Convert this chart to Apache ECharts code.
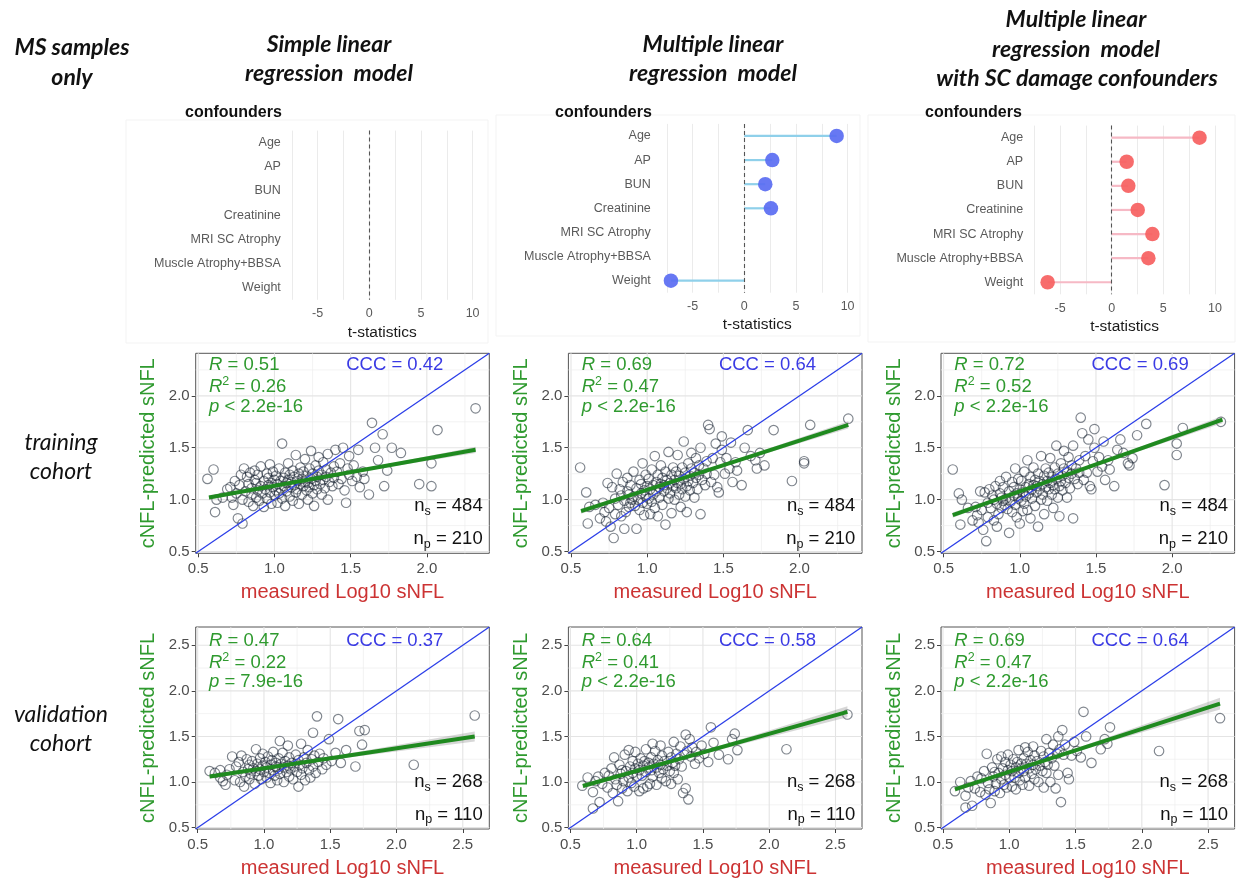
<!DOCTYPE html>
<html>
<head>
<meta charset="utf-8">
<title>cNFL-predicted sNFL vs measured sNFL</title>
<script src="https://cdn.jsdelivr.net/npm/echarts@6.0.0/dist/echarts.min.js"></script>
<style>
  html, body { margin: 0; padding: 0; background: #fff; }
  #chart { width: 1239px; height: 881px; }
</style>
</head>
<body>
<div id="chart"></div>
<script>
// ---- confounder t-statistics (top row) ----
const CONFOUNDERS = ['Age', 'AP', 'BUN', 'Creatinine', 'MRI SC Atrophy', 'Muscle Atrophy+BBSA', 'Weight'];
const T_SIMPLE = [null, null, null, null, null, null, null];
const T_MULTI = [8.94, 2.71, 2.03, 2.58, null, null, -7.1];
const T_MULTI_SC = [8.5, 1.45, 1.61, 2.52, 3.94, 3.55, -6.2];
const T_TICKS = [-5, 0, 5, 10];

// ---- training cohort: measured Log10 sNFL and predicted values per model ----
const TRAIN_X = [0.56,0.60,0.61,0.62,0.66,0.69,
  0.71,0.72,0.73,0.74,0.75,0.76,0.77,0.78,0.79,0.79,
  0.80,0.81,0.82,0.83,0.83,0.84,0.85,0.85,0.86,0.87,0.87,0.88,0.88,0.89,0.89,0.90,
  0.91,0.91,0.92,0.93,0.93,0.94,0.95,0.95,0.96,0.96,0.97,0.97,0.98,0.98,0.99,0.99,1.00,1.00,
  1.01,1.01,1.02,1.02,1.03,1.03,1.04,1.04,1.05,1.05,1.06,1.06,1.07,1.07,1.08,1.08,1.09,1.09,1.10,1.10,
  1.11,1.11,1.12,1.12,1.13,1.13,1.14,1.14,1.15,1.15,1.16,1.16,1.17,1.17,1.18,1.18,1.19,1.19,1.20,1.20,
  1.21,1.21,1.22,1.22,1.23,1.23,1.24,1.24,1.25,1.25,1.26,1.26,1.27,1.27,1.28,1.28,1.29,1.29,
  1.30,1.31,1.31,1.32,1.32,1.33,1.34,1.34,1.35,1.35,1.36,1.37,1.38,1.39,1.39,
  1.40,1.41,1.42,1.43,1.44,1.45,1.46,1.47,1.48,1.49,1.49,
  1.51,1.52,1.54,1.55,1.56,1.58,1.59,
  1.62,1.64,1.66,1.68,1.71,1.72,1.74,1.77,
  1.83,1.95,2.03,2.03,2.07,2.32];
const TRAIN_Y_SIMPLE = [1.20,1.29,0.88,1.00,1.02,1.10,
  1.12,1.02,0.95,1.18,1.06,0.82,1.14,1.24,0.77,1.00,
  1.30,1.08,1.22,0.98,1.15,1.26,1.05,1.11,0.94,1.19,1.28,1.02,1.16,1.09,1.24,0.99,
  1.13,1.32,1.06,0.93,1.18,1.10,1.25,1.01,1.14,1.21,1.07,1.34,0.96,1.16,1.12,1.27,1.04,1.19,
  1.09,1.23,0.97,1.15,1.30,1.06,1.18,1.11,1.54,1.01,1.21,1.13,1.26,0.94,1.16,1.08,1.35,1.19,1.03,1.24,
  1.12,1.17,0.99,1.28,1.14,1.22,1.07,1.43,1.18,1.10,1.25,0.96,1.15,1.31,1.20,1.05,1.13,1.27,1.17,1.39,
  1.09,1.23,1.00,1.16,1.30,1.12,1.20,1.47,1.06,1.25,1.14,0.94,1.33,1.18,1.22,1.10,1.28,1.41,
  1.15,1.24,1.05,1.36,1.19,1.11,1.29,1.22,1.44,1.00,1.17,1.26,1.13,1.32,1.21,
  1.48,1.27,1.15,1.35,1.20,1.50,1.09,0.97,1.30,1.24,1.42,
  1.18,1.33,1.22,1.48,1.12,1.27,1.20,
  1.05,1.74,1.50,1.38,1.63,1.13,1.28,1.50,
  1.45,1.15,1.35,1.13,1.67,1.88];
const TRAIN_Y_MULTI = [1.31,1.07,0.77,0.93,0.95,0.82,
  0.97,0.88,0.79,1.16,0.92,0.74,1.12,0.63,0.86,1.01,
  1.25,0.95,1.10,0.84,1.04,1.17,0.72,0.99,0.88,1.08,1.21,0.93,1.05,0.97,1.14,1.00,
  1.03,1.27,0.94,0.72,1.11,1.00,1.19,0.90,1.06,1.15,0.97,1.35,0.85,1.09,1.03,1.24,0.96,1.13,
  1.01,1.20,0.86,1.10,1.29,0.98,1.14,1.05,1.42,0.92,1.17,1.08,1.24,0.84,1.12,1.02,1.33,1.15,0.95,1.21,
  1.08,1.14,0.76,1.27,1.11,1.19,1.01,1.46,1.16,1.06,1.24,0.87,1.13,1.31,1.19,1.00,1.11,1.27,1.16,1.43,
  1.05,1.23,0.93,1.15,1.31,1.10,1.20,1.56,1.03,1.26,1.13,0.88,1.35,1.18,1.23,1.09,1.30,1.45,
  1.16,1.26,1.02,1.40,1.21,1.10,1.33,1.24,1.50,0.86,1.19,1.30,1.14,1.37,1.25,
  1.72,1.68,1.17,1.40,1.24,1.54,1.12,1.07,1.36,1.61,1.48,
  1.25,1.40,1.30,1.55,1.17,1.36,1.28,
  1.14,1.50,1.67,1.42,1.38,1.30,1.45,1.33,
  1.67,1.18,1.37,1.35,1.72,1.78];
const TRAIN_Y_MULTI_SC = [1.29,1.06,0.76,1.00,0.92,0.80,
  0.93,0.85,0.78,1.08,0.90,0.71,1.07,0.60,0.83,0.97,
  1.10,0.92,1.04,0.80,1.00,1.13,0.74,0.96,0.86,1.06,1.18,0.92,1.02,0.99,1.12,0.95,
  1.01,1.22,0.91,0.68,1.08,0.98,1.17,0.88,1.04,1.12,0.95,1.30,0.83,1.06,1.01,1.20,0.77,1.10,
  0.99,1.18,0.89,1.07,1.27,0.96,1.12,1.03,1.38,0.90,1.15,1.06,1.22,0.82,1.10,1.01,1.31,1.14,0.94,1.19,
  1.07,1.13,0.74,1.25,1.10,1.18,1.00,1.42,1.15,1.05,1.23,0.86,1.12,1.30,1.18,0.99,1.10,1.26,1.16,1.40,
  1.05,1.22,0.92,1.14,1.31,1.10,1.20,1.52,1.02,1.25,1.13,0.84,1.35,1.18,1.23,1.09,1.30,1.47,
  1.16,1.27,1.02,1.41,1.21,1.11,1.33,1.25,1.52,0.82,1.20,1.30,1.15,1.38,1.26,
  1.79,1.64,1.19,1.42,1.26,1.58,1.13,1.10,1.37,1.68,1.50,
  1.27,1.41,1.32,1.56,1.19,1.38,1.29,
  1.13,1.48,1.58,1.45,1.35,1.33,1.40,1.62,
  1.73,1.14,1.54,1.43,1.69,1.75];

// ---- validation cohort ----
const VALID_X = [0.59,0.63,0.67,0.67,0.69,
  0.71,0.72,0.74,0.76,0.78,0.79,
  0.81,0.82,0.83,0.84,0.85,0.86,0.87,0.88,0.89,0.89,
  0.90,0.91,0.92,0.93,0.94,0.94,0.95,0.96,0.97,0.97,0.98,0.99,0.99,
  1.00,1.01,1.02,1.02,1.03,1.04,1.05,1.05,1.06,1.07,1.07,1.08,1.09,1.09,
  1.10,1.11,1.11,1.12,1.12,1.13,1.14,1.15,1.15,1.16,1.17,1.18,1.18,1.19,1.19,
  1.20,1.21,1.22,1.23,1.24,1.25,1.26,1.26,1.27,1.28,1.28,1.29,
  1.30,1.31,1.32,1.33,1.34,1.35,1.36,1.37,1.37,1.38,1.39,
  1.40,1.41,1.42,1.44,1.45,1.47,1.49,
  1.51,1.54,1.56,1.58,
  1.62,1.69,1.72,1.74,1.76,
  2.13,2.59];
const VALID_Y_SIMPLE = [1.12,1.10,1.13,1.05,1.01,
  0.97,1.08,1.14,1.28,1.02,1.17,
  1.22,1.00,1.29,1.11,0.95,1.06,1.25,1.14,1.03,1.19,
  1.09,1.23,1.15,0.98,1.36,1.12,1.20,1.07,1.26,1.14,1.03,1.18,1.31,
  1.11,1.22,1.05,1.16,1.28,1.10,1.19,0.99,1.24,1.13,1.33,1.07,1.17,1.21,
  1.02,1.26,1.14,1.45,1.09,1.20,1.32,1.00,1.16,1.23,1.11,1.18,1.40,1.06,1.27,
  1.14,1.21,1.03,1.17,1.30,1.11,0.95,1.24,1.19,1.42,1.08,1.15,
  1.27,1.02,1.21,1.35,1.13,1.05,1.25,1.54,1.17,1.29,1.10,
  1.72,1.22,1.31,1.14,1.26,1.19,1.47,
  1.23,1.32,1.69,1.21,
  1.35,1.17,1.56,1.41,1.57,
  1.19,1.73];
const VALID_Y_MULTI = [0.96,1.05,0.89,0.71,1.01,
  1.06,0.78,0.98,1.10,0.94,1.07,
  1.15,0.88,1.27,1.03,0.97,0.79,1.19,1.09,0.93,1.13,
  1.01,1.30,1.12,0.90,1.35,1.05,1.17,0.99,1.23,1.10,0.95,1.15,1.33,
  1.06,1.20,0.90,1.13,1.26,1.07,1.18,0.93,1.23,1.11,1.36,0.95,1.16,1.21,
  0.98,1.27,1.13,1.42,1.06,1.20,1.34,0.97,1.16,1.24,1.10,1.19,1.40,1.04,1.29,
  1.14,1.23,1.01,1.18,1.33,1.12,0.98,1.27,1.21,1.44,1.10,1.18,
  1.31,1.03,1.25,1.39,1.17,0.88,1.30,1.52,0.93,1.34,0.81,
  1.47,1.28,1.38,1.20,1.33,1.26,1.40,
  1.31,1.22,1.60,1.43,
  1.30,1.25,1.47,1.53,1.35,
  1.36,1.74];
const VALID_Y_MULTI_SC = [0.90,1.00,0.85,0.72,0.94,
  1.01,0.74,0.93,1.06,0.89,1.04,
  1.12,0.86,1.31,0.99,0.92,0.77,1.16,1.06,0.90,1.11,
  0.98,1.25,1.10,0.88,1.28,1.03,1.15,0.97,1.22,1.08,0.94,1.13,1.30,
  1.05,1.19,0.95,1.12,1.25,1.05,1.16,0.92,1.22,1.10,1.35,1.02,1.15,1.20,
  0.97,1.26,1.12,1.38,1.05,1.20,1.33,0.96,1.15,1.24,1.09,1.19,1.39,1.03,1.29,
  1.14,1.23,1.00,1.18,1.34,1.12,0.94,1.28,1.22,1.47,1.10,1.19,
  1.32,1.00,1.26,1.41,1.18,0.93,1.31,1.50,1.08,1.36,0.78,
  1.57,1.30,1.41,1.10,1.03,1.29,1.44,
  1.34,1.27,1.77,1.50,
  1.21,1.36,1.47,1.42,1.60,
  1.34,1.70];

// ---- regression fits: end points, and confidence band as [x, lower, upper] ----
const TRAIN_FIT = [
  [[0.57, 1.02], [2.32, 1.48]],
  [[0.566, 0.89], [2.32, 1.72]],
  [[0.56, 0.85], [2.33, 1.77]]
];
const TRAIN_BAND = [
  [[0.57, 0.998, 1.042], [0.9, 1.097, 1.117], [1.2, 1.178, 1.194], [1.7, 1.302, 1.332], [2.32, 1.45, 1.51]],
  [[0.566, 0.865, 0.915], [0.9, 1.036, 1.06], [1.2, 1.181, 1.199], [1.7, 1.41, 1.444], [2.32, 1.685, 1.755]],
  [[0.56, 0.825, 0.875], [0.9, 1.015, 1.039], [1.2, 1.174, 1.192], [1.7, 1.426, 1.46], [2.33, 1.735, 1.805]]
];
const VALID_FIT = [
  [[0.59, 1.06], [2.59, 1.50]],
  [[0.594, 0.956], [2.59, 1.77]],
  [[0.59, 0.92], [2.59, 1.86]]
];
const VALID_BAND = [
  [[0.59, 1.035, 1.085], [0.9, 1.114, 1.142], [1.2, 1.184, 1.204], [1.7, 1.28, 1.328], [2.59, 1.445, 1.555]],
  [[0.594, 0.93, 0.982], [0.9, 1.066, 1.096], [1.2, 1.193, 1.213], [1.7, 1.382, 1.432], [2.59, 1.71, 1.83]],
  [[0.59, 0.893, 0.947], [0.9, 1.051, 1.081], [1.2, 1.197, 1.217], [1.7, 1.416, 1.468], [2.59, 1.795, 1.925]]
];

// ---- axes and statistics ----
const TRAIN_LIM = [0.483, 2.41];
const VALID_LIM = [0.485, 2.70];
const TRAIN_TICKS = [0.5, 1.0, 1.5, 2.0];
const VALID_TICKS = [0.5, 1.0, 1.5, 2.0, 2.5];
const TRAIN_GRID = [0.5, 0.75, 1.0, 1.25, 1.5, 1.75, 2.0, 2.25];
const VALID_GRID = [0.5, 0.75, 1.0, 1.25, 1.5, 1.75, 2.0, 2.25, 2.5];

const TRAIN_R = ['0.51', '0.69', '0.72'];
const TRAIN_R2 = ['0.26', '0.47', '0.52'];
const TRAIN_P = ['< 2.2e-16', '< 2.2e-16', '< 2.2e-16'];
const TRAIN_CCC = ['0.42', '0.64', '0.69'];
const VALID_R = ['0.47', '0.64', '0.69'];
const VALID_R2 = ['0.22', '0.41', '0.47'];
const VALID_P = ['= 7.9e-16', '< 2.2e-16', '< 2.2e-16'];
const VALID_CCC = ['0.37', '0.58', '0.64'];
const N_SAMPLES = [484, 268];
const N_PATIENTS = [210, 110];

const FONT = '"Liberation Sans", Arial, sans-serif';
const TITLE_FONT = 'Lato, "Open Sans", sans-serif';
const GREEN = '#2f9a2f';
const GREEN_LINE = '#1f8a1f';
const BLUE = '#3a3ae4';
const BLUE_LINE = '#2b3ee8';
const RED = '#cc3333';
const GREY_TXT = '#4d4d4d';

const chart = echarts.init(document.getElementById('chart'));

const grids = [];
const xAxes = [];
const yAxes = [];
const series = [];
const graphics = [];

function addText(x, y, text, style) {
  graphics.push({
    type: 'text', x: x, y: y, z: 100, silent: true,
    style: Object.assign({ text: text, fill: '#111', verticalAlign: 'middle', align: 'left' }, style)
  });
}

// column and row headings
const HEAD = { fontFamily: TITLE_FONT, fontSize: 23, fontWeight: 'bold', fontStyle: 'italic', align: 'center', fill: '#111' };
addText(72, 47.7, 'MS samples', HEAD);
addText(72, 77.3, 'only', HEAD);
addText(329, 44.3, 'Simple linear', HEAD);
addText(329, 73.3, 'regression  model', HEAD);
addText(713, 44.3, 'Multiple linear', HEAD);
addText(713, 73.3, 'regression  model', HEAD);
addText(1076, 20, 'Multiple linear', HEAD);
addText(1076, 49.3, 'regression  model', HEAD);
addText(1077, 79, 'with SC damage confounders', HEAD);

const ROWHEAD = { fontFamily: TITLE_FONT, fontSize: 23, fontStyle: 'italic', align: 'center', fill: '#111' };
addText(61, 443, 'training', ROWHEAD);
addText(61, 472, 'cohort', ROWHEAD);
addText(61, 715, 'validation', ROWHEAD);
addText(61, 744, 'cohort', ROWHEAD);

// ---- top row: lollipop panels ----
const LOLLI = [
  { left: 291.8, top: 130.6, height: 169.2, margin: 11, t: T_SIMPLE, dot: '#5a6cf2', stem: '#8fd0ea', head: 185, frame: [126, 120, 362, 223] },
  { left: 666.8, top: 123.9, height: 168.8, margin: 16, t: T_MULTI, dot: '#5a6cf2', stem: '#8fd0ea', head: 555, frame: [496, 115, 364, 221] },
  { left: 1034.2, top: 125.6, height: 168.7, margin: 11, t: T_MULTI_SC, dot: '#f65f5f', stem: '#f6b9c5', head: 925, frame: [868, 115, 367, 227] }
];
LOLLI.forEach((p, i) => {
  graphics.push({
    type: 'rect', silent: true, z: -10,
    shape: { x: p.frame[0], y: p.frame[1], width: p.frame[2], height: p.frame[3] },
    style: { fill: 'none', stroke: '#f3f3f3', lineWidth: 1 }
  });
  addText(p.head, 112.7, 'confounders', { fontFamily: FONT, fontSize: 16, fontWeight: 'bold', fill: '#111' });
  grids.push({ left: p.left, top: p.top, width: 180.8, height: p.height, outerBoundsMode: 'none' });
  xAxes.push({
    gridIndex: i, type: 'value', min: -7.5, max: 10, interval: 2.5,
    axisLine: { show: false }, axisTick: { show: false },
    axisLabel: {
      color: '#5a5a5a', fontSize: 12.5, fontFamily: FONT, margin: 7.5,
      formatter: v => (T_TICKS.indexOf(v) >= 0 ? String(v) : '')
    },
    splitLine: { show: true, lineStyle: { color: '#ebebeb', width: 1 } },
    name: 't-statistics', nameLocation: 'middle', nameGap: 24.5, nameMoveOverlap: false,
    nameTextStyle: { color: '#1a1a1a', fontSize: 15.5, fontFamily: FONT }
  });
  yAxes.push({
    gridIndex: i, type: 'category', data: CONFOUNDERS, inverse: true,
    axisLine: { show: false }, axisTick: { show: false }, splitLine: { show: false },
    axisLabel: { color: '#5a5a5a', fontSize: 12.5, fontFamily: FONT, margin: p.margin }
  });
  series.push({
    type: 'bar', xAxisIndex: i, yAxisIndex: i, data: p.t, barWidth: 2.2, silent: true,
    itemStyle: { color: p.stem },
    markLine: {
      silent: true, symbol: ['none', 'none'], label: { show: false },
      lineStyle: { type: [4, 3], color: '#555', width: 1.1 },
      data: [{ xAxis: 0 }]
    }
  });
  series.push({
    type: 'scatter', xAxisIndex: i, yAxisIndex: i, silent: true, symbolSize: 14.5,
    data: p.t.map((v, k) => [v, k]).filter(d => d[0] !== null),
    itemStyle: { color: p.dot, opacity: 0.92 }
  });
});

// ---- scatter panels ----
const COL_LEFT = [195.7, 568.4, 941.0];
const PLOT_W = 293.6;
const ROWS = [
  { top: 353.3, height: 200, lim: TRAIN_LIM, ticks: TRAIN_TICKS, gridVals: TRAIN_GRID, x: TRAIN_X,
    ys: [TRAIN_Y_SIMPLE, TRAIN_Y_MULTI, TRAIN_Y_MULTI_SC], fit: TRAIN_FIT, band: TRAIN_BAND,
    r: TRAIN_R, r2: TRAIN_R2, p: TRAIN_P, ccc: TRAIN_CCC, off: [11.7, 33.4, 53.4] },
  { top: 627, height: 202, lim: VALID_LIM, ticks: VALID_TICKS, gridVals: VALID_GRID, x: VALID_X,
    ys: [VALID_Y_SIMPLE, VALID_Y_MULTI, VALID_Y_MULTI_SC], fit: VALID_FIT, band: VALID_BAND,
    r: VALID_R, r2: VALID_R2, p: VALID_P, ccc: VALID_CCC, off: [13.7, 35.7, 54.7] }
];

const SZ = 18.5;
const tok = (extra) => Object.assign({ fontFamily: FONT, fontSize: SZ, lineHeight: 24, verticalAlign: 'middle' }, extra);

ROWS.forEach((row, r) => {
  for (let c = 0; c < 3; c++) {
    const g = grids.length;
    const left = COL_LEFT[c];
    grids.push({
      left: left, top: row.top, width: PLOT_W, height: row.height, outerBoundsMode: 'none',
      show: true, backgroundColor: '#fff', borderColor: '#555', borderWidth: 1
    });
    const axisCommon = {
      gridIndex: g, type: 'value', min: row.lim[0], max: row.lim[1],
      axisLine: { show: false },
      axisTick: { show: true, length: 4, customValues: row.ticks, lineStyle: { color: '#444', width: 1 } },
      axisLabel: { customValues: row.ticks, formatter: v => v.toFixed(1), color: GREY_TXT, fontSize: 15, fontFamily: FONT },
      splitLine: { show: false },
      nameLocation: 'middle', nameMoveOverlap: false
    };
    xAxes.push(Object.assign({}, axisCommon, {
      axisLabel: Object.assign({}, axisCommon.axisLabel, { margin: 8 }),
      name: 'measured Log10 sNFL', nameGap: 29,
      nameTextStyle: { color: RED, fontSize: 20, fontFamily: FONT }
    }));
    yAxes.push(Object.assign({}, axisCommon, {
      axisLabel: Object.assign({}, axisCommon.axisLabel, { margin: 6 }),
      name: 'cNFL-predicted sNFL', nameGap: 37, nameRotate: 90,
      nameTextStyle: { color: GREEN, fontSize: 20, fontFamily: FONT }
    }));

    // grid lines through the axis scales
    series.push({
      type: 'custom', xAxisIndex: g, yAxisIndex: g, silent: true, z: 1,
      data: row.gridVals.map(v => [v, v]),
      renderItem: (params, api) => {
        const cs = params.coordSys;
        const v = api.value(0);
        const pt = api.coord([v, api.value(1)]);
        const major = row.ticks.indexOf(v) >= 0;
        const st = { stroke: major ? '#e4e4e4' : '#eeeeee', lineWidth: major ? 1.1 : 0.7 };
        return {
          type: 'group', children: [
            { type: 'line', shape: { x1: pt[0], y1: cs.y, x2: pt[0], y2: cs.y + cs.height }, style: st },
            { type: 'line', shape: { x1: cs.x, y1: pt[1], x2: cs.x + cs.width, y2: pt[1] }, style: st }
          ]
        };
      }
    });
    // samples
    const ys = row.ys[c];
    series.push({
      type: 'scatter', xAxisIndex: g, yAxisIndex: g, silent: true, z: 2,
      symbol: 'circle', symbolSize: 9.5,
      data: row.x.map((x, k) => [x, ys[k]]),
      itemStyle: { color: 'rgba(0,0,0,0)', borderColor: 'rgba(20,32,46,0.68)', borderWidth: 1.15 }
    });
    // identity line
    series.push({
      type: 'line', xAxisIndex: g, yAxisIndex: g, silent: true, z: 3, symbol: 'none',
      data: [[row.lim[0], row.lim[0]], [row.lim[1], row.lim[1]]],
      lineStyle: { color: BLUE_LINE, width: 1.3 }
    });
    // confidence band
    const band = row.band[c];
    series.push({
      type: 'custom', xAxisIndex: g, yAxisIndex: g, silent: true, z: 4,
      data: band,
      renderItem: (params, api) => {
        if (params.dataIndex !== 0) return null;
        const pts = [];
        band.forEach(b => pts.push(api.coord([b[0], b[1]])));
        band.slice().reverse().forEach(b => pts.push(api.coord([b[0], b[2]])));
        return { type: 'polygon', shape: { points: pts }, style: { fill: 'rgba(150,150,150,0.38)' } };
      }
    });
    // regression line
    series.push({
      type: 'line', xAxisIndex: g, yAxisIndex: g, silent: true, z: 5, symbol: 'none',
      data: row.fit[c],
      lineStyle: { color: GREEN_LINE, width: 4 }
    });

    // annotations
    const top = row.top;
    const bottom = row.top + row.height;
    const right = left + PLOT_W;
    addText(left + 13.3, top + row.off[0], '{i|R}{t| = ' + row.r[c] + '}', {
      rich: { i: tok({ fill: GREEN, fontStyle: 'italic' }), t: tok({ fill: GREEN }) }
    });
    addText(left + 13.3, top + row.off[1], '{i|R}{s|2}{t| = ' + row.r2[c] + '}', {
      rich: {
        i: tok({ fill: GREEN, fontStyle: 'italic' }), t: tok({ fill: GREEN }),
        s: { fontFamily: FONT, fontSize: 12.5, lineHeight: 13, verticalAlign: 'top', fill: GREEN }
      }
    });
    addText(left + 13.3, top + row.off[2], '{i|p}{t| ' + row.p[c] + '}', {
      rich: { i: tok({ fill: GREEN, fontStyle: 'italic' }), t: tok({ fill: GREEN }) }
    });
    addText(left + 150.5, top + row.off[0], 'CCC = ' + row.ccc[c], { fontFamily: FONT, fontSize: SZ, fill: BLUE });
    const nTok = {
      t: tok({ fill: '#111' }),
      s: { fontFamily: FONT, fontSize: 12.5, lineHeight: 13, verticalAlign: 'bottom', fill: '#111' }
    };
    addText(right - 6.6, bottom - 47, '{t|n}{s|s}{t| = ' + N_SAMPLES[r] + '}', { align: 'right', rich: nTok });
    addText(right - 6.6, bottom - 14.5, '{t|n}{s|p}{t| = ' + N_PATIENTS[r] + '}', { align: 'right', rich: nTok });
  }
});

chart.setOption({
  animation: false,
  backgroundColor: '#fff',
  textStyle: { fontFamily: FONT },
  grid: grids,
  xAxis: xAxes,
  yAxis: yAxes,
  series: series,
  graphic: graphics
});
</script>
</body>
</html>
